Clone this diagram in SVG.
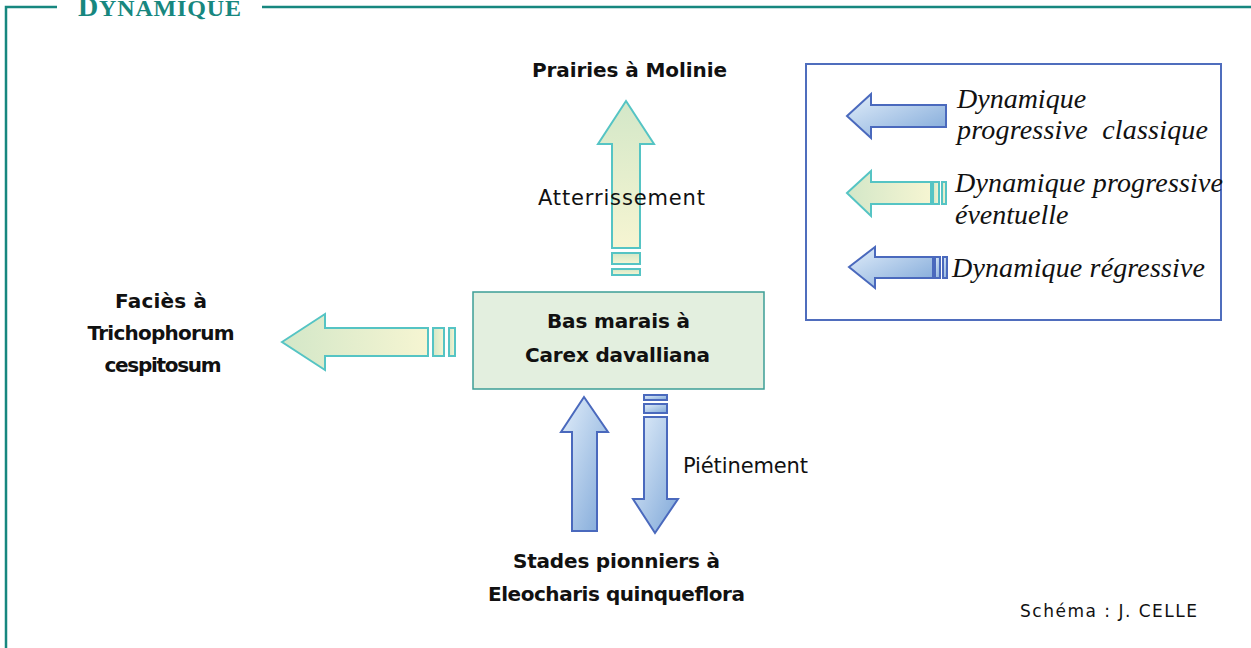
<svg xmlns="http://www.w3.org/2000/svg" width="1251" height="648" viewBox="0 0 1251 648">
<defs>
<linearGradient id="gBlue" x1="0" y1="0" x2="1" y2="1">
<stop offset="0" stop-color="#e2eefa"/>
<stop offset="1" stop-color="#7ea7d8"/>
</linearGradient>
<linearGradient id="gGreenL" x1="0" y1="0" x2="1" y2="0">
<stop offset="0" stop-color="#d3e7c8"/>
<stop offset="1" stop-color="#f6f5d2"/>
</linearGradient>
<linearGradient id="gGreenU" x1="0" y1="0" x2="0" y2="1">
<stop offset="0" stop-color="#d3e7c8"/>
<stop offset="1" stop-color="#f6f5d2"/>
</linearGradient>
<style>
.frame{fill:none;stroke:#17877f;stroke-width:2.5}
.title{font-family:"Liberation Serif",serif;font-weight:bold;fill:#17877f}
.lbl{font-family:"DejaVu Sans",sans-serif;font-weight:bold;font-size:20px;fill:#111;text-anchor:middle}
.reg{font-family:"DejaVu Sans",sans-serif;font-size:21px;fill:#111;text-anchor:middle}
.leg{font-family:"Liberation Serif",serif;font-style:italic;font-size:28px;fill:#111}
.blue{fill:url(#gBlue);stroke:#4a69bd;stroke-width:2;stroke-linejoin:miter}
.greenL{fill:url(#gGreenL);stroke:#55c4c4;stroke-width:2}
.greenU{fill:url(#gGreenU);stroke:#55c4c4;stroke-width:2}
.box{fill:#e3efdf;stroke:#3d9e96;stroke-width:1.5}
.legbox{fill:#fff;stroke:#4f6dbd;stroke-width:2}
</style>
</defs>
<rect width="1251" height="648" fill="#fff"/>
<g id="frame">
<path class="frame" d="M57,7 H6 V648 M262,7 H1251"/>
<text class="title" x="78" y="16" letter-spacing="1" textLength="164"><tspan font-size="28">D</tspan><tspan font-size="24">YNAMIQUE</tspan></text>
</g>
<g id="connectors">
<g id="arrow-atterrissement">
<path class="greenU" d="M626,101 L654,144 L640,144 L640,248 L612,248 L612,144 L598,144 Z"/>
<rect class="greenU" x="612" y="253" width="28" height="11"/>
<rect class="greenU" x="612" y="269" width="28" height="6"/>
<text class="reg" x="621.5" y="205" textLength="167">Atterrissement</text>
</g>
<g id="arrow-facies">
<path class="greenL" d="M282,342 L325,314 L325,328 L428,328 L428,356 L325,356 L325,370 Z"/>
<rect class="greenL" x="433" y="328" width="11" height="28"/>
<rect class="greenL" x="449" y="328" width="6" height="28"/>
</g>
<g id="arrow-up-pionniers">
<path class="blue" d="M584,397 L608,432 L597,432 L597,531 L572,531 L572,432 L561,432 Z"/>
</g>
<g id="arrow-pietinement">
<rect class="blue" x="644" y="395" width="23" height="5"/>
<rect class="blue" x="644" y="404" width="23" height="9"/>
<path class="blue" d="M644,417 L667,417 L667,499 L678,499 L655,533 L633,499 L644,499 Z"/>
<text class="reg" x="745.5" y="473" textLength="125">Piétinement</text>
</g>
</g>
<g id="node-prairies">
<text class="lbl" x="629.5" y="77" textLength="195">Prairies à Molinie</text>
</g>
<g id="node-facies">
<text class="lbl" x="161" y="308" textLength="92">Faciès à</text>
<text class="lbl" x="161" y="340" textLength="147">Trichophorum</text>
<text class="lbl" x="163" y="372" textLength="117">cespitosum</text>
</g>
<g id="node-basmarais">
<rect class="box" x="473" y="292" width="291" height="97"/>
<text class="lbl" x="618.5" y="328" textLength="143">Bas marais à</text>
<text class="lbl" x="617.5" y="362" textLength="185">Carex davalliana</text>
</g>
<g id="node-stades">
<text class="lbl" x="616.5" y="568" textLength="207">Stades pionniers à</text>
<text class="lbl" x="616.5" y="601" textLength="257">Eleocharis quinqueflora</text>
</g>
<g id="legend">
<rect class="legbox" x="806" y="64" width="415" height="256"/>
<path class="blue" d="M847,116 L871,94 L871,105 L946,105 L946,127 L871,127 L871,138 Z"/>
<text class="leg" x="957" y="108">Dynamique</text>
<text class="leg" x="957" y="139" xml:space="preserve" textLength="251">progressive  classique</text>
<path class="greenL" d="M847,193 L871,171 L871,182 L931,182 L931,204 L871,204 L871,216 Z"/>
<rect class="greenL" x="933" y="182" width="6" height="22"/>
<rect class="greenL" x="942" y="182" width="4" height="22"/>
<text class="leg" x="955" y="192" textLength="268">Dynamique progressive</text>
<text class="leg" x="955" y="224">éventuelle</text>
<path class="blue" d="M849,267 L875,247 L875,257 L933,257 L933,278 L875,278 L875,288 Z"/>
<rect class="blue" x="935" y="257" width="5" height="21"/>
<rect class="blue" x="943" y="257" width="4" height="21"/>
<text class="leg" x="952" y="277" textLength="253">Dynamique régressive</text>
</g>
<g id="credit">
<text class="reg" x="1108.5" y="617" style="font-size:17px" textLength="177">Schéma : J. CELLE</text>
</g>
</svg>
